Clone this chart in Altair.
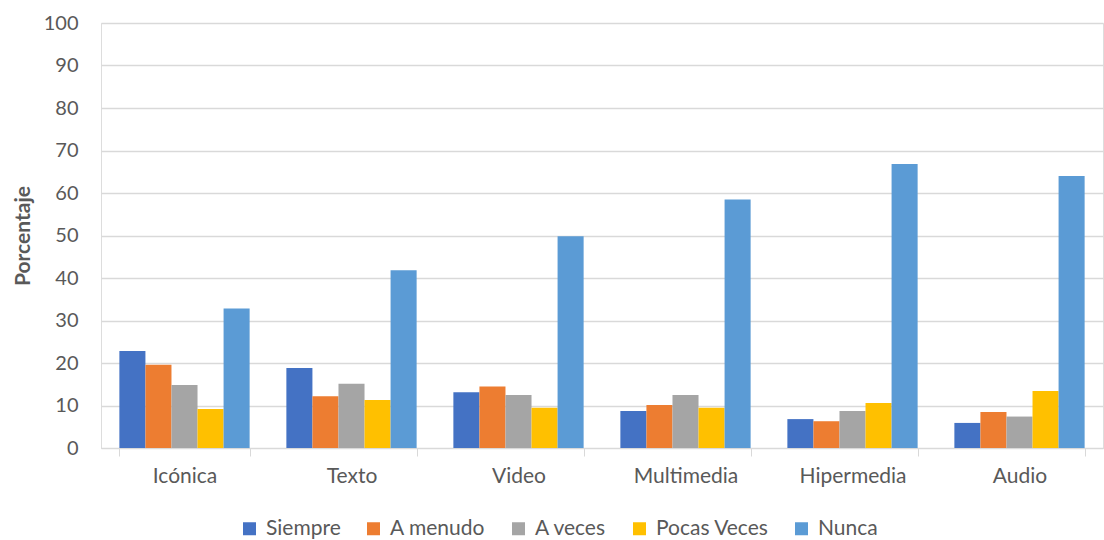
import altair as alt
import pandas as pd

# Types of material and how often each is used (percent of respondents)
categories = ["Icónica", "Texto", "Video", "Multimedia", "Hipermedia", "Audio"]
series = ["Siempre", "A menudo", "A veces", "Pocas Veces", "Nunca"]
colors = ["#4472C4", "#ED7D31", "#A5A5A5", "#FFC000", "#5B9BD5"]

siempre = [22.8, 18.8, 13.1, 8.7, 6.8, 5.9]
a_menudo = [19.6, 12.2, 14.5, 10.1, 6.3, 8.5]
a_veces = [14.8, 15.1, 12.5, 12.5, 8.7, 7.4]
pocas_veces = [9.2, 11.3, 9.5, 9.5, 10.6, 13.4]
nunca = [32.8, 41.8, 49.8, 58.5, 66.8, 64.0]

values = [siempre, a_menudo, a_veces, pocas_veces, nunca]
rows = []
for name, vals in zip(series, values):
    for cat, v in zip(categories, vals):
        rows.append({"Categoria": cat, "Serie": name, "Porcentaje": v})
df = pd.DataFrame(rows)

FONT = "Lato"
TEXT = "#595959"
GRID = "#D9D9D9"

chart = (
    alt.Chart(df)
    .mark_bar()
    .encode(
        x=alt.X(
            "Categoria:N",
            sort=categories,
            title=None,
            scale=alt.Scale(paddingInner=0.22, paddingOuter=0.11),
            axis=alt.Axis(
                labelAngle=0,
                labelFontSize=21,
                labelColor=TEXT,
                labelFont=FONT,
                labelPadding=9,
                tickBand="extent",
                tickSize=8,
                tickColor=GRID,
                domainColor=GRID,
                grid=False,
            ),
        ),
        xOffset=alt.XOffset("Serie:N", sort=series, scale=alt.Scale(paddingInner=0, paddingOuter=0)),
        y=alt.Y(
            "Porcentaje:Q",
            title="Porcentaje",
            scale=alt.Scale(domain=[0, 100], nice=False),
            axis=alt.Axis(
                values=list(range(0, 101, 10)),
                labelFontSize=20,
                labelColor=TEXT,
                labelFont=FONT,
                labelPadding=23,
                ticks=False,
                domain=False,
                gridColor=GRID,
                gridWidth=1.3,
                titleFont=FONT,
                titleFontSize=21,
                titleFontWeight="bold",
                titleColor=TEXT,
                titlePadding=10,
            ),
        ),
        color=alt.Color(
            "Serie:N",
            sort=series,
            scale=alt.Scale(domain=series, range=colors),
            legend=alt.Legend(
                title=None,
                orient="none",
                direction="horizontal",
                legendX=138,
                legendY=495,
                symbolType="square",
                symbolSize=169,
                symbolStrokeWidth=0,
                symbolOpacity=1,
                labelFontSize=21,
                labelFont=FONT,
                labelColor=TEXT,
                labelOffset=6,
                columnPadding=22,
            ),
        ),
    )
    .properties(
        width=1002,
        height=425,
        autosize=alt.AutoSizeParams(type="none"),
        padding={"left": 101, "top": 23, "right": 1, "bottom": 92},
    )
    .configure_view(stroke=None)
    .configure(background="white")
)

chart.save("out.html", embed_options={"renderer": "svg", "actions": False})
